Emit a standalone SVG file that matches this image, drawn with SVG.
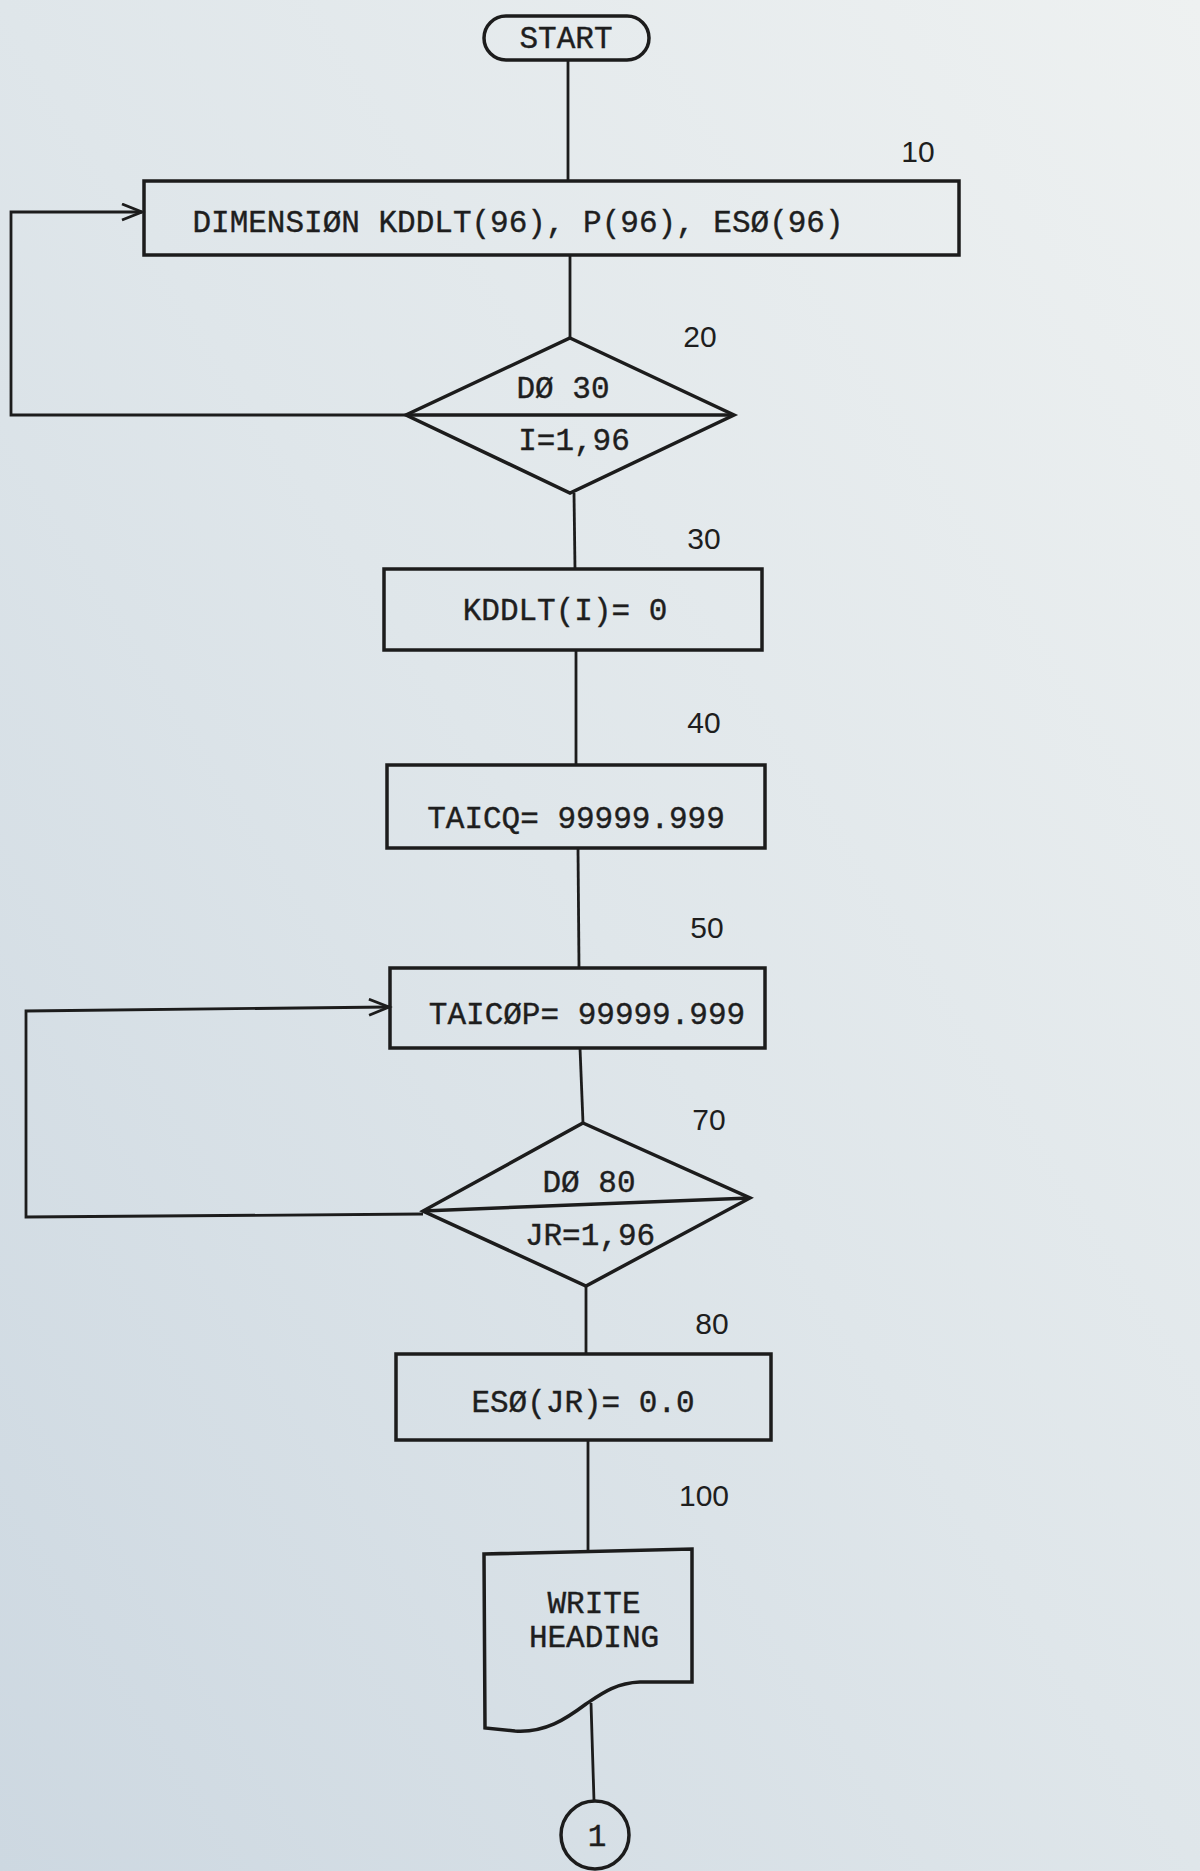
<svg xmlns="http://www.w3.org/2000/svg" width="1200" height="1871" viewBox="0 0 1200 1871">
<defs>
<linearGradient id="paper" x1="1" y1="0" x2="0" y2="1">
<stop offset="0" stop-color="#eef1f1"/>
<stop offset="0.5" stop-color="#dfe6ea"/>
<stop offset="1" stop-color="#cdd8e1"/>
</linearGradient>
<marker id="arr" markerUnits="userSpaceOnUse" markerWidth="26" markerHeight="20" refX="21" refY="9" orient="auto">
<path d="M1,1 L21,9 L1,17" fill="none" stroke="#1c1c1c" stroke-width="2.8"/>
</marker>
<style>
.shape{fill:none;stroke:#1c1c1c;stroke-width:3.5;stroke-linejoin:miter}
.conn{fill:none;stroke:#1c1c1c;stroke-width:2.8}
.t{font-family:"Liberation Mono","DejaVu Sans Mono",monospace;font-size:31px;fill:#1e1e1e;stroke:#1e1e1e;stroke-width:0.4;text-anchor:middle}
.n{font-family:"Liberation Sans","DejaVu Sans",sans-serif;font-size:30px;fill:#1e1e1e;text-anchor:middle}
</style>
</defs>
<rect x="0" y="0" width="1200" height="1871" fill="url(#paper)"/>

<g id="connectors">
<line class="conn" x1="568" y1="60" x2="568" y2="180"/>
<line class="conn" x1="570" y1="255" x2="570" y2="338"/>
<polyline class="conn" points="406,415 11,415 11,212 142,212" marker-end="url(#arr)"/>
<line class="conn" x1="574" y1="493" x2="575" y2="569"/>
<line class="conn" x1="576" y1="650" x2="576" y2="765"/>
<line class="conn" x1="578" y1="848" x2="579" y2="968"/>
<line class="conn" x1="580" y1="1048" x2="583" y2="1123"/>
<polyline class="conn" points="423,1214 26,1217 26,1011 389,1007" marker-end="url(#arr)"/>
<line class="conn" x1="586" y1="1286" x2="586" y2="1355"/>
<line class="conn" x1="588" y1="1440" x2="588" y2="1551"/>
<line class="conn" x1="591" y1="1703" x2="594" y2="1801"/>
</g>

<g id="start">
<rect class="shape" x="484" y="16" width="165" height="44" rx="22" ry="22"/>
<text class="t" x="566" y="48">START</text>
</g>

<g id="n10">
<rect class="shape" x="144" y="181" width="815" height="74"/>
<text class="t" x="518" y="232">DIMENSIØN KDDLT(96), P(96), ESØ(96)</text>
<text class="n" x="918" y="162">10</text>
</g>

<g id="n20">
<polygon class="shape" points="570,338 734,415 570,493 406,415"/>
<line class="shape" x1="406" y1="415" x2="734" y2="415"/>
<text class="t" x="563" y="398">DØ 30</text>
<text class="t" x="574" y="450">I=1,96</text>
<text class="n" x="700" y="347">20</text>
</g>

<g id="n30">
<rect class="shape" x="384" y="569" width="378" height="81"/>
<text class="t" x="565" y="620">KDDLT(I)= 0</text>
<text class="n" x="704" y="549">30</text>
</g>

<g id="n40">
<rect class="shape" x="387" y="765" width="378" height="83"/>
<text class="t" x="576" y="828">TAICQ= 99999.999</text>
<text class="n" x="704" y="733">40</text>
</g>

<g id="n50">
<rect class="shape" x="390" y="968" width="375" height="80"/>
<text class="t" x="587" y="1024">TAICØP= 99999.999</text>
<text class="n" x="707" y="938">50</text>
</g>

<g id="n70">
<polygon class="shape" points="583,1123 750,1198 586,1286 423,1211"/>
<line class="shape" x1="423" y1="1211" x2="750" y2="1198"/>
<text class="t" x="589" y="1192">DØ 80</text>
<text class="t" x="590" y="1245">JR=1,96</text>
<text class="n" x="709" y="1130">70</text>
</g>

<g id="n80">
<rect class="shape" x="396" y="1354" width="375" height="86"/>
<text class="t" x="583" y="1412">ESØ(JR)= 0.0</text>
<text class="n" x="712" y="1334">80</text>
</g>

<g id="n100">
<path class="shape" d="M484,1554 L692,1549 L692,1682 L640,1682 C615,1683 601,1694 586,1704 C566,1719 545,1733 515,1731 L485,1728 Z"/>
<text class="t" x="594" y="1613">WRITE</text>
<text class="t" x="594" y="1647">HEADING</text>
<text class="n" x="704" y="1506">100</text>
</g>

<g id="c1">
<circle class="shape" cx="595" cy="1835" r="34"/>
<text class="t" x="597" y="1846">1</text>
</g>
</svg>
